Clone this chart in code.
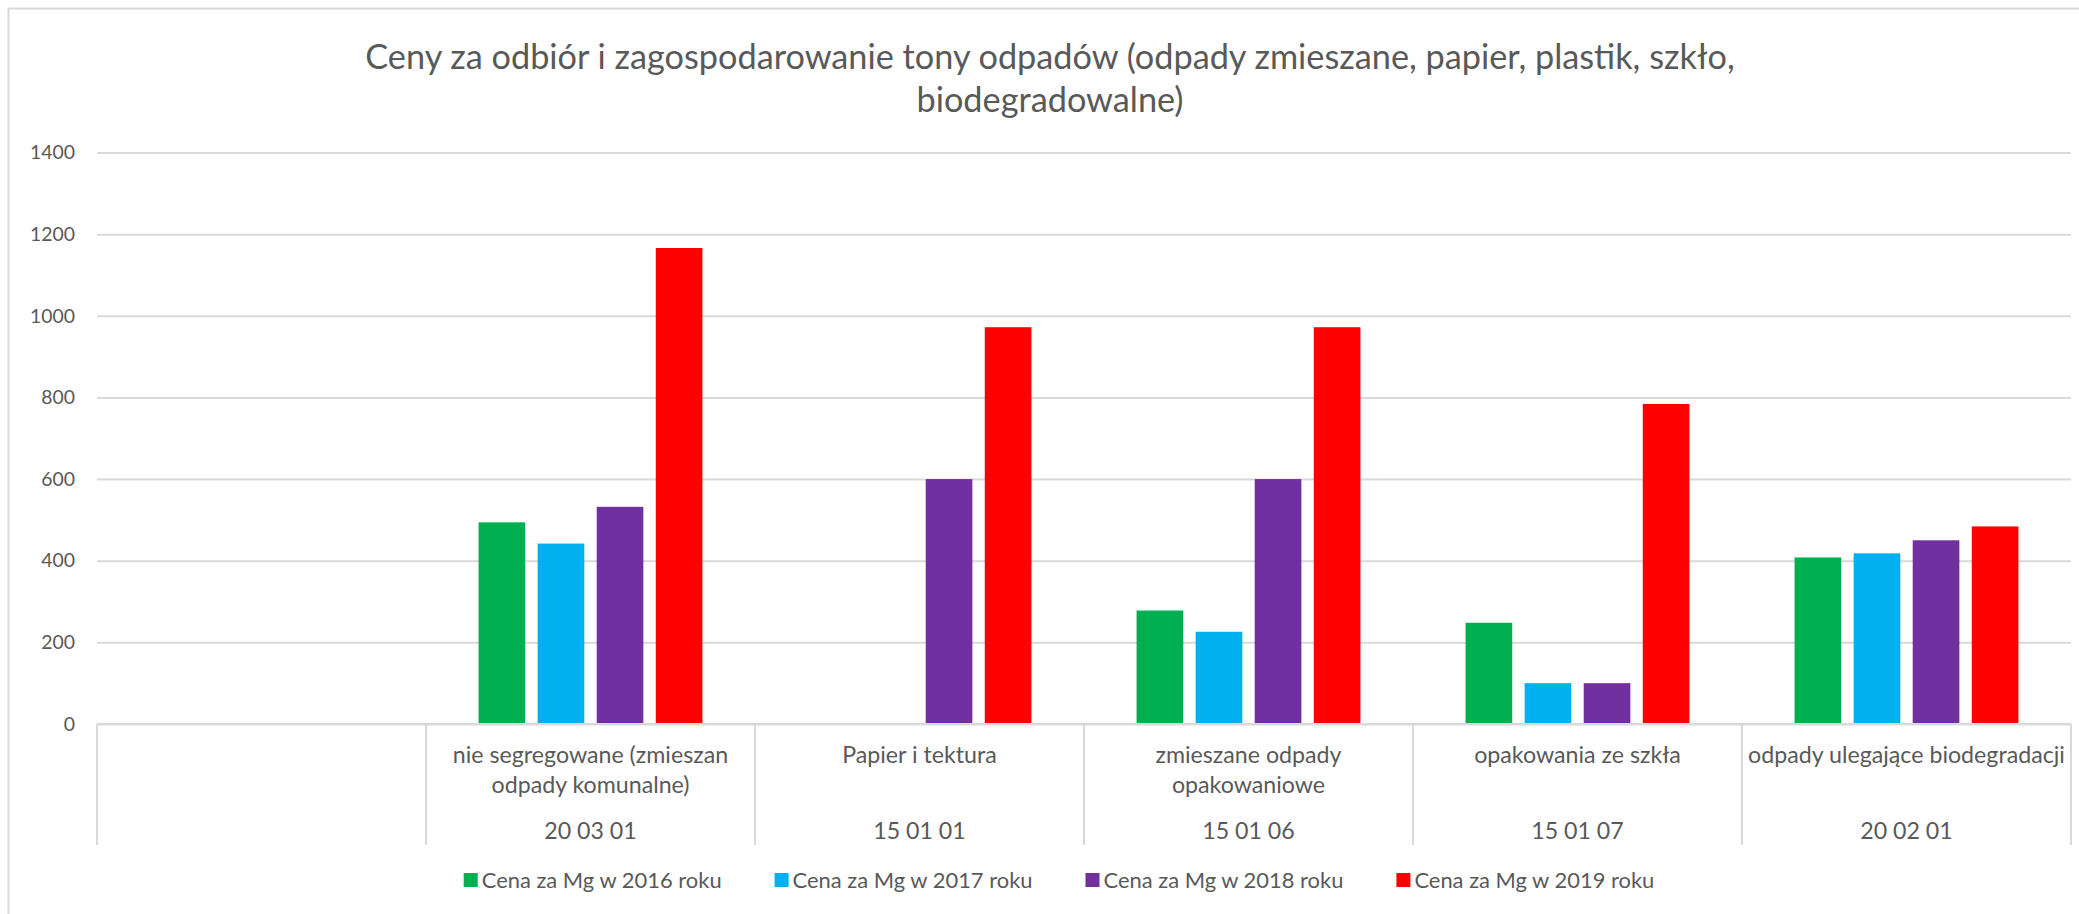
<!DOCTYPE html>
<html>
<head>
<meta charset="utf-8">
<script src="https://cdn.jsdelivr.net/npm/d3@7"></script>
<style>
  body { margin: 0; background: #fff; }
  svg { display: block; font-family: Lato, 'Open Sans', sans-serif; }
</style>
</head>
<body>
<div class="chart"></div>
<script>
// data
const titleLines = [
  'Ceny za odbiór i zagospodarowanie tony odpadów (odpady zmieszane, papier, plastik, szkło,',
  'biodegradowalne)',
];
const categoryLines = [
  [],
  ['nie segregowane (zmieszan', 'odpady komunalne)'],
  ['Papier i tektura'],
  ['zmieszane odpady', 'opakowaniowe'],
  ['opakowania ze szkła'],
  ['odpady ulegające biodegradacji'],
];
const codes = ['', '20 03 01', '15 01 01', '15 01 06', '15 01 07', '20 02 01'];
const seriesNames = [
  'Cena za Mg w 2016 roku',
  'Cena za Mg w 2017 roku',
  'Cena za Mg w 2018 roku',
  'Cena za Mg w 2019 roku',
];
const price2016 = [null, 494, null, 278, 248, 408];
const price2017 = [null, 442, null, 226, 100, 418];
const price2018 = [null, 532, 600, 600, 100, 450];
const price2019 = [null, 1166, 972, 972, 784, 484];
const yTicks = [0, 200, 400, 600, 800, 1000, 1200, 1400];

const seriesValues = [price2016, price2017, price2018, price2019];
const seriesColors = ['#00B050', '#00B0F0', '#7030A0', '#FF0000'];

const width = 2079;
const height = 914;
const margin = { top: 152.5, right: 8, bottom: 190, left: 97 };
const textColor = '#595959';
const gridColor = '#d9d9d9';

const svg = d3
  .select('.chart')
  .append('svg')
  .attr('width', width)
  .attr('height', height);

svg.append('rect').attr('width', width).attr('height', height).attr('fill', '#fff');

// chart area border (runs off to the right/bottom like the screenshot)
svg
  .append('rect')
  .attr('x', 8.5)
  .attr('y', 8.5)
  .attr('width', width + 20)
  .attr('height', height - 4)
  .attr('fill', 'none')
  .attr('stroke', gridColor)
  .attr('stroke-width', 2);

// Calibri is not available, so size Lato so widths match the reference
const measure = (txt, size) => {
  const t = svg.append('text').style('font-size', size + 'px').text(txt);
  const w = t.node().getComputedTextLength();
  t.remove();
  return w;
};
const labelSize = 24 * (317 / measure('odpady ulegające biodegradacji', 24));
const legendSize = 24 * (240 / measure(seriesNames[0], 24));
const tickSize = 24 * (45 / measure('1400', 24));
const titleSize = 35 * (1370 / measure(titleLines[0], 35));

const x0 = d3
  .scaleBand()
  .domain(d3.range(categoryLines.length))
  .range([margin.left, width - margin.right]);

const x1 = d3
  .scaleBand()
  .domain(d3.range(seriesNames.length))
  .range([0, x0.bandwidth()])
  .paddingInner(0.21)
  .paddingOuter(0.89);

const y = d3
  .scaleLinear()
  .domain([0, 1400])
  .range([height - margin.bottom, margin.top]);

// title
svg
  .append('text')
  .attr('text-anchor', 'middle')
  .attr('fill', textColor)
  .style('font-size', titleSize + 'px')
  .selectAll('tspan')
  .data(titleLines)
  .join('tspan')
  .attr('x', 1050)
  .attr('y', (d, i) => 57 + i * 43.5)
  .attr('dy', '0.35em')
  .text((d) => d);

// y axis with gridlines
const yAxis = svg
  .append('g')
  .attr('transform', `translate(${margin.left},0)`)
  .call(
    d3
      .axisLeft(y)
      .tickValues(yTicks)
      .tickFormat(d3.format('d'))
      .tickSize(-(width - margin.left - margin.right))
      .tickPadding(22)
  );
yAxis.select('.domain').remove();
yAxis.selectAll('line').attr('stroke', gridColor).attr('stroke-width', 2);
yAxis
  .selectAll('text')
  .attr('fill', textColor)
  .style('font-size', tickSize + 'px')
  .style('font-family', 'Lato, sans-serif');

// bars
const groups = svg
  .append('g')
  .selectAll('g')
  .data(seriesValues)
  .join('g')
  .attr('fill', (d, i) => seriesColors[i]);

groups
  .selectAll('rect')
  .data((vals, s) => vals.map((v, c) => ({ v, c, s })).filter((d) => d.v != null))
  .join('rect')
  .attr('x', (d) => x0(d.c) + x1(d.s))
  .attr('y', (d) => y(d.v))
  .attr('width', x1.bandwidth())
  .attr('height', (d) => y(0) - y(d.v));

// category axis (two levels)
const axisY = y(0);
const sepBottom = 845;
const catAxis = svg.append('g');
catAxis
  .append('line')
  .attr('x1', margin.left)
  .attr('x2', width - margin.right)
  .attr('y1', axisY)
  .attr('y2', axisY)
  .attr('stroke', gridColor)
  .attr('stroke-width', 2);

const edges = x0.domain().map((c) => x0(c)).concat([x0.range()[1]]);
catAxis
  .selectAll('.sep')
  .data(edges)
  .join('line')
  .attr('class', 'sep')
  .attr('x1', (d) => d)
  .attr('x2', (d) => d)
  .attr('y1', axisY)
  .attr('y2', sepBottom)
  .attr('stroke', gridColor)
  .attr('stroke-width', 2);

const catLabels = catAxis
  .selectAll('.cat')
  .data(categoryLines)
  .join('text')
  .attr('class', 'cat')
  .attr('text-anchor', 'middle')
  .attr('fill', textColor)
  .style('font-size', labelSize + 'px');

catLabels
  .selectAll('tspan')
  .data((lines, i) => lines.map((l) => ({ l, i })))
  .join('tspan')
  .attr('x', (d) => x0(d.i) + x0.bandwidth() / 2)
  .attr('y', (d, j) => 755 + j * 30)
  .attr('dy', '0.35em')
  .text((d) => d.l);

catAxis
  .selectAll('.code')
  .data(codes)
  .join('text')
  .attr('class', 'code')
  .attr('text-anchor', 'middle')
  .attr('fill', textColor)
  .style('font-size', labelSize + 'px')
  .attr('x', (d, i) => x0(i) + x0.bandwidth() / 2)
  .attr('y', 831)
  .attr('dy', '0.35em')
  .text((d) => d);

// legend
const legend = svg.append('g');
const markerSize = 14;
const itemGap = 53;
let cursor = 0;
seriesNames.forEach((name, i) => {
  const item = legend.append('g').attr('transform', `translate(${cursor},0)`);
  item
    .append('rect')
    .attr('x', 0)
    .attr('y', -markerSize / 2)
    .attr('width', markerSize)
    .attr('height', markerSize)
    .attr('fill', seriesColors[i]);
  const t = item
    .append('text')
    .attr('x', markerSize + 4)
    .attr('dy', '0.35em')
    .attr('fill', textColor)
    .style('font-size', legendSize + 'px')
    .text(name);
  cursor += markerSize + 4 + t.node().getComputedTextLength() + itemGap;
});
const legendWidth = cursor - itemGap;
legend.attr('transform', `translate(${1059 - legendWidth / 2},880)`);
</script>
</body>
</html>
